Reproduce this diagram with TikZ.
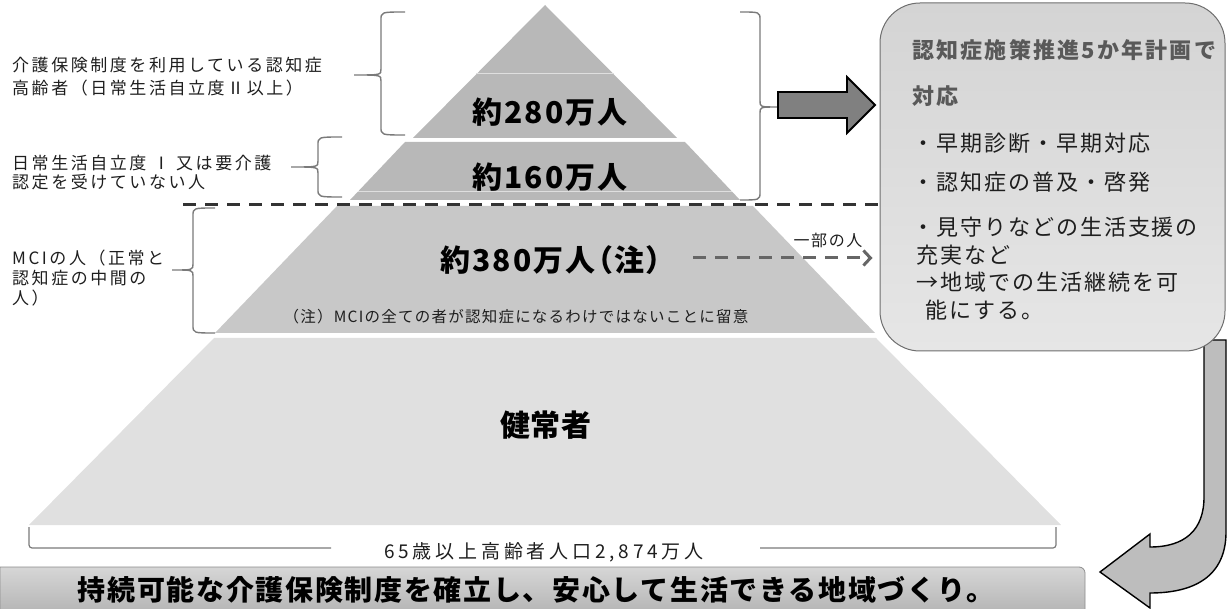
\documentclass[tikz,border=0pt]{standalone}
\usepackage{fontspec}
\newfontfamily\jp{Noto Sans CJK JP}
\usetikzlibrary{arrows.meta}
\definecolor{tierA}{HTML}{B8B8B8}
\definecolor{tierB}{HTML}{C8C8C8}
\definecolor{tierC}{HTML}{E0E0E0}
\definecolor{brkc}{HTML}{7A7A7A}
\definecolor{dashc}{HTML}{333333}
\definecolor{darrc}{HTML}{666666}
\definecolor{boxb}{HTML}{6E6E6E}
\definecolor{boxt}{HTML}{D4D4D4}
\definecolor{boxbot}{HTML}{E6E6E6}
\definecolor{arrA}{HTML}{808080}
\definecolor{arrB}{HTML}{BDBDBD}
\definecolor{titc}{HTML}{595959}
\definecolor{txtc}{HTML}{1E1E1E}
\definecolor{banT}{HTML}{D6D6D6}
\definecolor{banB}{HTML}{B6B6B6}
\newcommand\jpf[3]{\jp\addfontfeatures{LetterSpace=#3}\fontsize{#1}{#2}\selectfont}
\newcommand\jpb[3]{\jp\bfseries\addfontfeatures{LetterSpace=#3}\fontsize{#1}{#2}\selectfont}
\newcommand\jpp[3]{\jp\bfseries\addfontfeatures{LetterSpace=#3,RawFeature=+palt}\fontsize{#1}{#2}\selectfont}
\newcommand\mybrace[6]{\draw[brk] (#1,#4) .. controls (#2,#4) .. (#2,#4+8) -- (#2,#5-6) .. controls (#2,#5) .. (#3,#5) .. controls (#2,#5) .. (#2,#5+6) -- (#2,#6-8) .. controls (#2,#6) .. (#1,#6);}
\tikzset{
  brk/.style={draw=brkc, line width=1.4pt},
  dashline/.style={draw=dashc, line width=3pt, dash pattern=on 13pt off 9pt},
  darrow/.style={draw=darrc, line width=3pt, dash pattern=on 13pt off 9pt, -{Straight Barb[length=7pt,width=15pt]}},
  boxst/.style={draw=boxb, line width=1pt, rounded corners=40pt, top color=boxt, bottom color=boxbot, minimum width=345pt, minimum height=348pt, inner sep=0pt},
  bigarrow/.style={fill=arrA, draw=black, line width=1.8pt, line join=miter},
  curvearrow/.style={fill=arrB, draw=black, line width=1.4pt},
  banner/.style={top color=banT, bottom color=banB, draw=black!45, line width=0.8pt},
  lbl/.style={text=txtc, anchor=west, inner sep=0pt, align=left},
  big/.style={text=black, inner sep=0pt, font=\jpb{30}{32}{7}},
  boxtxt/.style={text=txtc, anchor=west, inner sep=0pt, align=left},
}
\begin{document}
\begin{tikzpicture}[x=1pt,y=-1pt]
\useasboundingbox (0,0) rectangle (1227,609);
% pyramid tiers
\fill[tierA] (545,5) -- (677,138) -- (413,138) -- cycle;
\fill[tierA] (405,142) -- (685,142) -- (740,200) -- (350,200) -- cycle;
\fill[tierB] (337,206) -- (753,206) -- (875,333) -- (215,333) -- cycle;
\fill[tierC] (214,338) -- (876,338) -- (1061,525) -- (29,525) -- cycle;
\draw[white!55!tierA, line width=1pt] (476,74) -- (614,74);
\draw[white!55!tierA, line width=1pt] (358,192) -- (732,192);
% dashed separator
\coordinate (dl) at (183,205);
\coordinate (dr) at (880,205);
\draw[dashline] (dl) -- (dr);
% braces
\mybrace{405}{381}{354}{12}{75}{135}
\mybrace{342}{318}{291}{137}{167}{197}
\mybrace{215}{193}{172}{208}{270}{333}
\mybrace{740}{760}{778}{12}{107}{200}
% curved arrow to the goal banner
\draw[curvearrow] (1204,340) -- (1204,497) .. controls (1204,530) and (1185,547) .. (1150,547) -- (1150,534) -- (1100,572) -- (1150,608) -- (1150,593) .. controls (1200,593) and (1226,572) .. (1226,532) -- (1226,340) -- cycle;
% box
\node[boxst] (box) at (1052.5,177) {};
% right arrow from brace to box
\draw[bigarrow] (778,92) -- (847,92) -- (847,77) -- (875,105) -- (847,133) -- (847,118) -- (778,118) -- cycle;
% box texts
\node[boxtxt, text=titc, font=\jpb{22}{46}{10}] (btitle) at (912,73) {認知症施策推進5か年計画で\\対応};
\node[boxtxt, font=\jpf{22}{28}{9}] (b1) at (912,143) {・早期診断・早期対応};
\node[boxtxt, font=\jpf{22}{28}{9}] (b2) at (912,182) {・認知症の普及・啓発};
\node[boxtxt, font=\jpf{22}{27.7}{9}] (b3) at (912,268.5) {・見守りなどの生活支援の\\\hspace*{4pt}充実など\\\hspace*{4pt}→地域での生活継続を可\\\hspace*{13pt}能にする。};
% left labels
\node[lbl, font=\jpf{17}{23}{15}] (lab1) at (12,76.5) {介護保険制度を利用している認知症\\高齢者（日常生活自立度Ⅱ以上）};
\node[lbl, font=\jpf{17}{19.5}{15}] (lab2) at (12,172.5) {日常生活自立度 Ⅰ 又は要介護\\認定を受けていない人};
\node[lbl, font=\jpf{17}{20}{15}] (lab3) at (12,278) {MCIの人（正常と\\認知症の中間の\\人）};
% pyramid texts
\node[big] (n280) at (550,112) {約280万人};
\node[big] (n160) at (550,177) {約160万人};
\node[big, font=\jpp{30}{32}{7}] (n380) at (551,260) {約380万人（注）};
\node[text=txtc, inner sep=0pt, font=\jpf{15.5}{17}{8}] (note) at (516,317) {（注）MCIの全ての者が認知症になるわけではないことに留意};
\node[big, font=\jpb{30}{32}{2}] (healthy) at (546,425) {健常者};
% partial arrow
\node[text=txtc, inner sep=0pt, font=\jpf{16}{17}{10}] (some) at (828,240) {一部の人};
\coordinate (dstart) at (693,258);
\draw[darrow] (dstart) -- ([xshift=-7pt]box.west |- dstart);
% population brace
\node[text=txtc, inner sep=0pt, font=\jpf{19}{20}{20}] (popl) at (544,552) {65歳以上高齢者人口2,874万人};
\draw[brk, line width=1.2pt, rounded corners=3pt] (29,527) -- (29,548) -- (331,548);
\draw[brk, line width=1.2pt, rounded corners=3pt] (760,548) -- (1056,548) -- (1056,527);
% goal banner
\path[banner] (0,567) -- (1079,567) to[out=0,in=90] (1085,573) -- (1085,611) -- (0,611) -- cycle;
\node[text=black, inner sep=0pt, font=\jpb{28}{30}{6}] (goal) at (536,590) {持続可能な介護保険制度を確立し、安心して生活できる地域づくり。};
\end{tikzpicture}
\end{document}
